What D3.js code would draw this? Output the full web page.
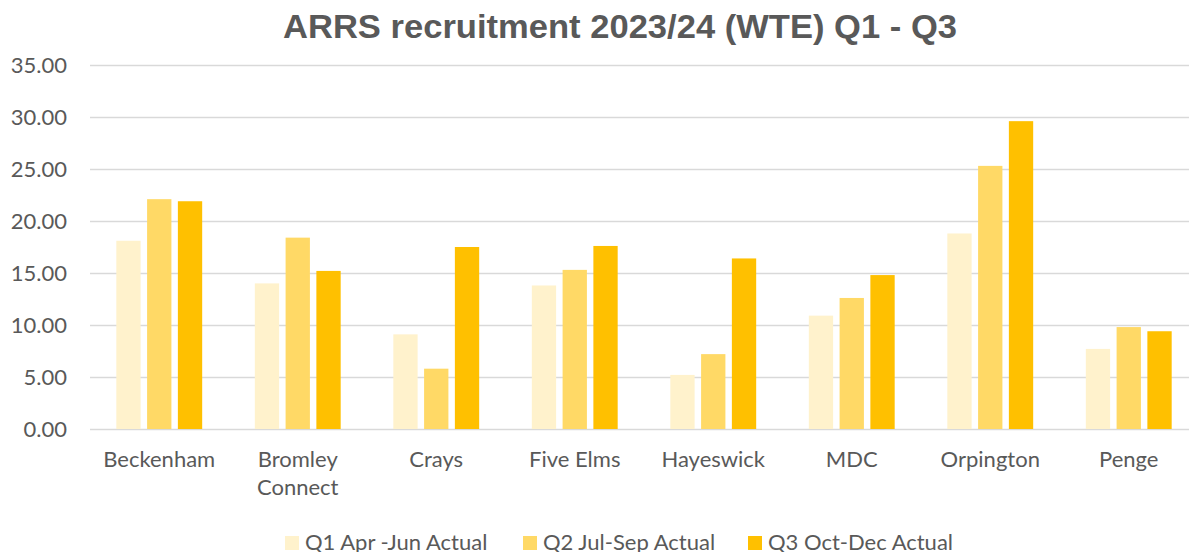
<!DOCTYPE html>
<html>
<head>
<meta charset="utf-8">
<script src="https://cdn.jsdelivr.net/npm/d3@7"></script>
<style>
  body { margin: 0; background: #fff; }
  svg { display: block; }
  text { fill: #595959; font-family: Lato, "Open Sans", sans-serif; }
  .title { font-family: "Liberation Sans", Arial, sans-serif; font-weight: bold; }
</style>
</head>
<body>
<div id="chart"></div>
<script>
var categories = ["Beckenham", "Bromley Connect", "Crays", "Five Elms", "Hayeswick", "MDC", "Orpington", "Penge"];
var seriesNames = ["Q1 Apr -Jun Actual", "Q2 Jul-Sep Actual", "Q3 Oct-Dec Actual"];
var q1Values = [18.1, 14.0, 9.1, 13.8, 5.2, 10.9, 18.8, 7.7];
var q2Values = [22.1, 18.4, 5.8, 15.3, 7.2, 12.6, 25.3, 9.8];
var q3Values = [21.9, 15.2, 17.5, 17.6, 16.4, 14.8, 29.6, 9.4];
var yTicks = [0, 5, 10, 15, 20, 25, 30, 35];
var colors = ["#FFF2CC", "#FFD966", "#FFC000"];
var titleText = "ARRS recruitment 2023/24 (WTE) Q1 - Q3";

var width = 1189, height = 552;
var margin = {top: 65, left: 90, bottom: 123};
var plotRight = 1198;   // chart area runs past the crop on the right

var series = [q1Values, q2Values, q3Values];
var rows = categories.map(function (c, i) {
  return {name: c, values: series.map(function (s) { return s[i]; })};
});

var svg = d3.select("#chart").append("svg")
    .attr("width", width)
    .attr("height", height);

var x0 = d3.scaleBand()
    .domain(categories)
    .range([margin.left, plotRight])
    .paddingInner(0.38)
    .paddingOuter(0.19);

var x1 = d3.scaleBand()
    .domain(d3.range(series.length))
    .range([0, x0.bandwidth()])
    .paddingInner(0.21);

var y = d3.scaleLinear()
    .domain([0, 35])
    .range([height - margin.bottom, margin.top]);

// title
svg.append("text")
    .attr("class", "title")
    .attr("x", 620)
    .attr("y", 38)
    .attr("text-anchor", "middle")
    .attr("textLength", 674)
    .attr("lengthAdjust", "spacingAndGlyphs")
    .style("font-size", "33px")
    .text(titleText);

// gridlines + y labels
var yaxis = svg.append("g")
    .attr("transform", "translate(" + margin.left + ",0)")
    .call(d3.axisLeft(y)
      .tickValues(yTicks)
      .tickSize(-(width - margin.left))
      .tickPadding(23)
      .tickFormat(d3.format(".2f")));

yaxis.select(".domain").remove();
yaxis.selectAll(".tick line")
    .attr("stroke", "#D9D9D9")
    .attr("stroke-width", 1.5);
yaxis.selectAll(".tick text")
    .attr("fill", "#595959")
    .attr("dy", "0.32em")
    .style("font-family", "Lato, sans-serif")
    .style("font-size", "22px");

// bars
var groups = svg.append("g").selectAll("g")
    .data(rows)
    .enter().append("g")
    .attr("transform", function (d) { return "translate(" + x0(d.name) + ",0)"; });

groups.selectAll("rect")
    .data(function (d) { return d.values; })
    .enter().append("rect")
    .attr("x", function (d, i) { return x1(i); })
    .attr("y", function (d) { return y(d); })
    .attr("width", x1.bandwidth())
    .attr("height", function (d) { return y(0) - y(d); })
    .attr("fill", function (d, i) { return colors[i]; });

// category labels, wrapped when wider than the band
var labels = svg.append("g").selectAll("text")
    .data(categories)
    .enter().append("text")
    .attr("x", function (d) { return x0(d) + x0.bandwidth() / 2; })
    .attr("y", y(0) + 38)
    .attr("text-anchor", "middle")
    .style("font-size", "22px");

labels.each(function (d) {
  var el = d3.select(this);
  var words = d.split(" ");
  el.text(d);
  if (this.getComputedTextLength() > x0.step() - 10 && words.length > 1) {
    el.text(null);
    words.forEach(function (w, i) {
      el.append("tspan")
        .attr("x", x0(d) + x0.bandwidth() / 2)
        .attr("dy", i === 0 ? 0 : 28)
        .text(w);
    });
  }
});

// legend
var legendX = [285, 523, 748];
var legend = svg.append("g").selectAll("g")
    .data(seriesNames)
    .enter().append("g")
    .attr("transform", function (d, i) { return "translate(" + legendX[i] + ",536)"; });

legend.append("rect")
    .attr("width", 14)
    .attr("height", 14)
    .attr("fill", function (d, i) { return colors[i]; });

legend.append("text")
    .attr("x", 20)
    .attr("y", 14)
    .style("font-size", "22px")
    .text(function (d) { return d; });
</script>
</body>
</html>
